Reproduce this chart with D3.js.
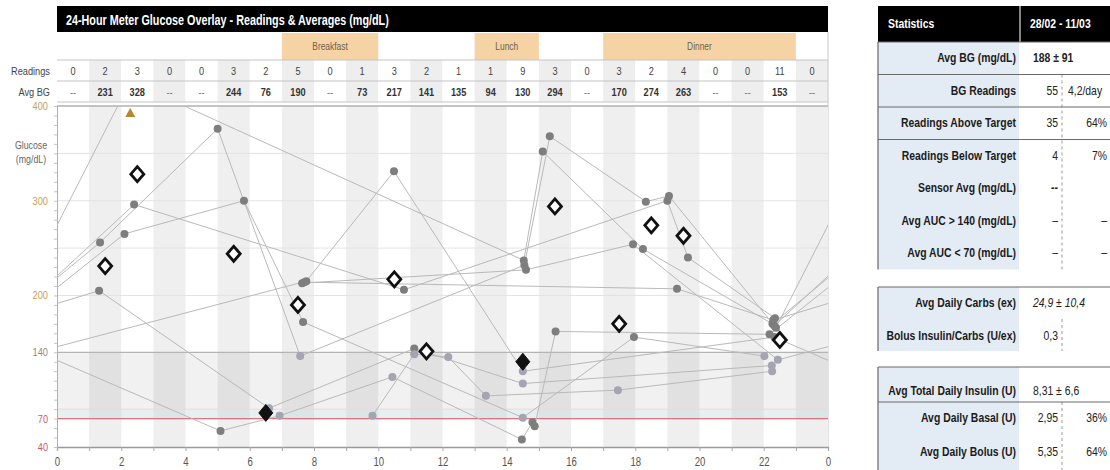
<!DOCTYPE html>
<html>
<head>
<meta charset="utf-8">
<script src="https://cdn.jsdelivr.net/npm/d3@7"></script>
<style>
  body { margin: 0; background: #fff; }
  svg { display: block; font-family: "Liberation Sans Narrow", "Arial Narrow", "Liberation Sans", Arial, sans-serif; }
</style>
</head>
<body>
<svg id="chart" width="1110" height="470"></svg>
<script>
// ---- hourly summary (one slot per hour of the day) ----
const hourSlots = d3.range(24);
const readingCounts = [0, 2, 3, 0, 0, 3, 2, 5, 0, 1, 3, 2, 1, 1, 9, 3, 0, 3, 2, 4, 0, 0, 11, 0];
const avgBG = [null, 231, 328, null, null, 244, 76, 190, null, 73, 217, 141, 135, 94, 130, 294, null, 170, 274, 263, null, null, 153, null];

// ---- meal periods (start hour, end hour) ----
const mealNames = ["Breakfast", "Lunch", "Dinner"];
const mealStart = [7, 13, 17];
const mealEnd = [10, 15, 23];

// ---- axis ticks ----
const yTickValues = [40, 70, 140, 200, 300, 400];
const xTickHours = d3.range(0, 25, 2);

// ---- meter readings: stretches of consecutive logged days, each day a list of [hour, mg/dL] ----
const runs = [
  [
    [[22.38, 166]],
    [[2.28, 426], [14.53, 237], [15.12, 352], [18.24, 249], [22.27, 170]],
    [[1.34, 256], [5.00, 376], [7.57, 136], [14.55, 232], [15.34, 368], [18.33, 299], [19.05, 305], [22.33, 168]],
    [[2.40, 296], [10.80, 206], [19.00, 300], [19.64, 240], [22.35, 176]]
  ],
  [
    [[7.63, 213], [14.60, 227], [17.93, 254], [22.44, 132]],
    [[7.76, 215], [10.49, 331], [14.50, 120], [22.33, 156]],
    [[5.09, 57], [6.93, 73], [10.44, 114], [14.47, 48], [14.80, 66], [14.87, 62], [15.52, 162], [22.18, 159]],
    [[2.10, 265], [5.82, 300], [7.66, 172], [14.50, 71], [17.96, 156], [22.02, 136]]
  ],
  [
    [[7.70, 214], [19.30, 207], [22.30, 174]],
    [[1.31, 205], [6.60, 81], [11.12, 144], [14.50, 107], [22.25, 126]]
  ],
  [
    [[9.82, 73], [11.12, 138], [12.18, 135], [13.35, 94], [17.46, 100], [22.26, 120]]
  ]
];

// ---- statistics panel ----
const statHeader = ["Statistics", "28/02 - 11/03"];
const statLabelsA = ["Avg BG (mg/dL)", "BG Readings", "Readings Above Target", "Readings Below Target",
                     "Sensor Avg (mg/dL)", "Avg AUC > 140 (mg/dL)", "Avg AUC < 70 (mg/dL)"];
const statValuesA = ["188 ± 91", "55", "35", "4", "--", "–", "–"];
const statExtraA = [null, "4,2/day", "64%", "7%", null, "–", "–"];
const statLabelsB = ["Avg Daily Carbs (ex)", "Bolus Insulin/Carbs (U/ex)"];
const statValuesB = ["24,9 ± 10,4", "0,3"];
const statLabelsC = ["Avg Total Daily Insulin (U)", "Avg Daily Basal (U)", "Avg Daily Bolus (U)"];
const statValuesC = ["8,31 ± 6,6", "2,95", "5,35"];
const statExtraC = [null, "36%", "64%"];

const svg = d3.select("#chart");

const x = d3.scaleLinear().domain([0, 24]).range([57, 828]);
const y = d3.scaleLinear().domain([40, 400]).range([447, 106]);
const plotTop = y(400), plotBottom = y(40);

// ================= title bar =================
svg.append("rect").attr("x", x(0)).attr("y", 6).attr("width", x(24) - x(0)).attr("height", 26).attr("fill", "#000");
svg.append("text").attr("x", x(0) + 9).attr("y", 25)
  .attr("fill", "#fff").attr("font-weight", "bold").attr("font-size", 15).attr("data-squeeze", 0.72)
  .text("24-Hour Meter Glucose Overlay - Readings & Averages (mg/dL)");

// ================= meal row =================
const mealRowTop = 32, mealRowBottom = 60;
svg.append("rect").attr("x", x(0)).attr("y", mealRowTop).attr("width", x(24) - x(0))
  .attr("height", mealRowBottom - mealRowTop).attr("fill", "#fff");
mealNames.forEach((m, i) => {
  svg.append("rect").attr("x", x(mealStart[i])).attr("y", mealRowTop + 1)
    .attr("width", x(mealEnd[i]) - x(mealStart[i])).attr("height", mealRowBottom - mealRowTop - 1)
    .attr("fill", "#f6d3a4");
  svg.append("text").attr("x", (x(mealStart[i]) + x(mealEnd[i])) / 2).attr("y", 50)
    .attr("text-anchor", "middle").attr("font-size", 10.5).attr("fill", "#6e5f4c").text(m);
});

// ================= readings / avg rows =================
const rowTop = 60, rowMid = 81, rowBottom = 102;
hourSlots.forEach(h => {
  svg.append("rect").attr("x", x(h)).attr("y", rowTop).attr("width", x(h + 1) - x(h))
    .attr("height", rowBottom - rowTop).attr("fill", h % 2 ? "#eeeeee" : "#ffffff");
});
[rowTop, rowMid, rowBottom].forEach(yy => {
  svg.append("line").attr("x1", x(0)).attr("x2", x(24)).attr("y1", yy).attr("y2", yy)
    .attr("stroke", "#c4c4c4").attr("stroke-width", 1.2);
});
svg.append("line").attr("x1", x(24)).attr("x2", x(24)).attr("y1", mealRowTop).attr("y2", plotBottom)
  .attr("stroke", "#c8c8c8");

svg.append("text").attr("x", 50).attr("y", 75).attr("text-anchor", "end")
  .attr("font-size", 11.5).attr("fill", "#444").text("Readings");
svg.append("text").attr("x", 50).attr("y", 96).attr("text-anchor", "end")
  .attr("font-size", 11.5).attr("fill", "#444").text("Avg BG");

svg.append("g").selectAll("text").data(hourSlots).join("text")
  .attr("x", h => x(h + 0.5)).attr("y", 75).attr("text-anchor", "middle")
  .attr("font-size", 11.5).attr("fill", "#444").text(h => readingCounts[h]);
svg.append("g").selectAll("text").data(hourSlots).join("text")
  .attr("x", h => x(h + 0.5)).attr("y", 96).attr("text-anchor", "middle")
  .attr("font-size", 11.5).attr("font-weight", h => avgBG[h] == null ? "normal" : "bold")
  .attr("fill", h => avgBG[h] == null ? "#777" : "#333")
  .text(h => avgBG[h] == null ? "--" : avgBG[h]);

// ================= plot background =================
const plot = svg.append("g");
hourSlots.filter(h => h % 2).forEach(h => {
  plot.append("rect").attr("x", x(h)).attr("y", plotTop).attr("width", x(h + 1) - x(h))
    .attr("height", plotBottom - plotTop).attr("fill", "#efefef");
});
// target range band
plot.append("rect").attr("x", x(0)).attr("y", y(140)).attr("width", x(24) - x(0))
  .attr("height", y(70) - y(140)).attr("fill", "rgba(0,0,0,0.055)");
plot.append("rect").attr("x", x(0)).attr("y", y(80)).attr("width", x(24) - x(0))
  .attr("height", y(70) - y(80)).attr("fill", "rgba(205,238,242,0.35)");
plot.append("line").attr("x1", x(0)).attr("x2", x(24)).attr("y1", y(80)).attr("y2", y(80))
  .attr("stroke", "#f6d3dc").attr("stroke-width", 1);
// faint grid
[200, 250, 300, 350].forEach(v => {
  plot.append("line").attr("x1", x(0)).attr("x2", x(24)).attr("y1", y(v)).attr("y2", y(v))
    .attr("stroke", "#e6e3de").attr("stroke-width", 1);
});
plot.append("line").attr("x1", x(0)).attr("x2", x(24)).attr("y1", y(140)).attr("y2", y(140))
  .attr("stroke", "#b4b4b4").attr("stroke-width", 1.3);
plot.append("line").attr("x1", x(0)).attr("x2", x(24)).attr("y1", y(70)).attr("y2", y(70))
  .attr("stroke", "#e2707f").attr("stroke-width", 1.2);
plot.append("line").attr("x1", x(0)).attr("x2", x(24)).attr("y1", y(400)).attr("y2", y(400))
  .attr("stroke", "#b0b0b0").attr("stroke-width", 1.5);

// ================= axes =================
const xAxis = d3.axisBottom(x).tickValues(d3.range(0, 25)).tickSize(4).tickPadding(6)
  .tickFormat(h => xTickHours.includes(h) ? String(h % 24) : "");
const gx = svg.append("g").attr("transform", `translate(0,${plotBottom})`).call(xAxis);
gx.select(".domain").attr("stroke", "#9a9a9a").attr("stroke-width", 1.3);
gx.selectAll(".tick line").attr("stroke", "#aaa");
gx.selectAll(".tick text").attr("font-size", 12).attr("fill", "#555")
  .attr("font-family", "'Liberation Sans Narrow','Liberation Sans',Arial,sans-serif");

const yAxis = d3.axisLeft(y).tickValues(d3.range(40, 401, 10)).tickSize(3).tickFormat("");
const gy = svg.append("g").attr("transform", `translate(${x(0)},0)`).call(yAxis);
gy.select(".domain").attr("stroke", "#b0b0b0");
gy.selectAll(".tick line").attr("stroke", "#c4c4c4");

const yLabelColor = v => v >= 200 ? "#c9a04e" : (v === 140 ? "#8a8a8a" : "#d4566a");
svg.append("g").selectAll("text").data(yTickValues).join("text")
  .attr("x", 48).attr("y", v => y(v) + 4).attr("text-anchor", "end")
  .attr("font-size", 11.5).attr("fill", yLabelColor).text(v => v);

svg.append("text").attr("x", 31).attr("y", 149).attr("text-anchor", "middle")
  .attr("font-size", 11).attr("fill", "#666").text("Glucose");
svg.append("text").attr("x", 31).attr("y", 163).attr("text-anchor", "middle")
  .attr("font-size", 11).attr("fill", "#666").text("(mg/dL)");

// ================= reading lines =================
svg.append("defs").append("clipPath").attr("id", "plotClip")
  .append("rect").attr("x", x(0)).attr("y", plotTop).attr("width", x(24) - x(0)).attr("height", plotBottom - plotTop);

const segments = [];
const points = [];
runs.forEach(run => {
  const flat = [];
  run.forEach((day, di) => day.forEach(([h, v]) => flat.push({ t: di * 24 + h, h, v })));
  flat.forEach(p => points.push(p));
  for (let i = 1; i < flat.length; i++) {
    const a = flat[i - 1], b = flat[i];
    const end = a.h + (b.t - a.t);
    segments.push([a.h, a.v, end, b.v]);
    if (end > 24) segments.push([a.h - 24, a.v, end - 24, b.v]);
  }
});

svg.append("g").attr("clip-path", "url(#plotClip)").selectAll("line").data(segments).join("line")
  .attr("x1", d => x(d[0])).attr("y1", d => y(d[1]))
  .attr("x2", d => x(d[2])).attr("y2", d => y(d[3]))
  .attr("stroke", "#b9b9b9").attr("stroke-width", 1);

// ================= reading dots =================
svg.append("g").selectAll("circle").data(points.filter(p => p.v <= 400)).join("circle")
  .attr("cx", p => x(p.h)).attr("cy", p => y(p.v)).attr("r", 4)
  .attr("fill", p => (p.v >= 70 && p.v <= 140) ? "#a4a4b2" : "#7e7e7e");

// readings above the chart ceiling
svg.append("g").selectAll("path").data(points.filter(p => p.v > 400)).join("path")
  .attr("transform", p => `translate(${x(p.h)},${y(400) + 7})`)
  .attr("d", "M0,-5 L5,4 L-5,4 Z").attr("fill", "#b8862e");

// ================= hourly average diamonds =================
const avgHours = hourSlots.filter(h => avgBG[h] != null && readingCounts[h] >= 2);
svg.append("g").selectAll("path").data(avgHours).join("path")
  .attr("transform", h => `translate(${x(h + 0.5)},${y(avgBG[h])})`)
  .attr("d", h => avgBG[h] < 140 ? "M0,-8.5 L7,0 L0,8.5 L-7,0 Z" : "M0,-7.5 L6.5,0 L0,7.5 L-6.5,0 Z")
  .attr("fill", h => avgBG[h] < 140 ? "#111" : "#fff")
  .attr("stroke", "#111").attr("stroke-width", h => avgBG[h] < 140 ? 1 : 2.8)
  .attr("stroke-linejoin", "miter");

// ================= statistics panel =================
const sp = svg.append("g");
const px0 = 878, pDiv = 1019, pVal = 1033, pNum = 1058, pDash = 1062, pExtra = 1068, pPct = 1107;

// header
sp.append("rect").attr("x", px0).attr("y", 6).attr("width", 1110 - px0).attr("height", 36).attr("fill", "#000");
sp.append("line").attr("x1", pDiv + 1).attr("x2", pDiv + 1).attr("y1", 6).attr("y2", 42).attr("stroke", "#ddd").attr("stroke-width", 1.2);
sp.append("text").attr("x", 888).attr("y", 28).attr("fill", "#fff").attr("font-weight", "bold")
  .attr("font-size", 13).text(statHeader[0]);
sp.append("text").attr("x", 1030).attr("y", 28).attr("fill", "#fff").attr("font-weight", "bold")
  .attr("font-size", 13).text(statHeader[1]);

function statBox(top, bottom, labels, centers, values, extras, opts) {
  sp.append("rect").attr("x", px0).attr("y", top).attr("width", pDiv - px0).attr("height", bottom - top).attr("fill", "#e3ebf4");
  sp.append("line").attr("x1", px0).attr("x2", px0).attr("y1", top).attr("y2", bottom).attr("stroke", "#666").attr("stroke-width", 1.2);
  if (opts.dash) {
    sp.append("line").attr("x1", pDash).attr("x2", pDash).attr("y1", opts.dash[0]).attr("y2", opts.dash[1])
      .attr("stroke", "#9a9a9a").attr("stroke-dasharray", "3,3");
  }
  (opts.rules || []).forEach(r => {
    sp.append("line").attr("x1", px0).attr("x2", 1110).attr("y1", r).attr("y2", r).attr("stroke", "#6a6a6a").attr("stroke-width", 1.2);
  });
  labels.forEach((l, i) => {
    sp.append("text").attr("x", 1016).attr("y", centers[i] + 4.5).attr("text-anchor", "end")
      .attr("font-weight", "bold").attr("font-size", 13).attr("fill", "#1b1b1b").text(l);
    const v = values[i];
    const wide = v.includes("±");
    sp.append("text")
      .attr("x", wide ? pVal : pNum).attr("y", centers[i] + 4.5)
      .attr("text-anchor", wide ? "start" : "end")
      .attr("font-size", 13).attr("fill", "#222")
      .attr("font-weight", (opts.boldFirst && i === 0) || v === "--" ? "bold" : "normal")
      .attr("font-style", opts.italicFirst && i === 0 ? "italic" : "normal")
      .text(v);
    const e = extras ? extras[i] : null;
    if (e) {
      const pct = e.endsWith("%") || e === "–";
      sp.append("text").attr("x", pct ? pPct : pExtra).attr("y", centers[i] + 4.5)
        .attr("text-anchor", pct ? "end" : "start").attr("font-size", 13).attr("fill", "#222").text(e);
    }
  });
}

statBox(42, 269.5, statLabelsA, [58, 90.5, 123, 155.5, 188, 221, 253], statValuesA, statExtraA,
  { rules: [42, 74.5, 107, 139.5], dash: [74.5, 269.5], boldFirst: true });
statBox(287, 351, statLabelsB, [303, 336], statValuesB, null,
  { rules: [287], dash: [319, 351], italicFirst: true });
statBox(367, 470, statLabelsC, [391, 418, 452], statValuesC, statExtraC,
  { rules: [367, 402], dash: [402, 470] });

// narrow the sans face to a condensed look: squeeze each text horizontally around its anchor point
svg.selectAll("text").each(function () {
  const w = this.getComputedTextLength();
  if (!(w > 0)) return;
  const el = d3.select(this);
  const k = +(el.attr("data-squeeze") || 0.8);
  const anchor = window.getComputedStyle(this).textAnchor || el.attr("text-anchor") || "start";
  const x0 = +(el.attr("x") || 0);
  const start = anchor === "end" ? x0 - w * k : anchor === "middle" ? x0 - w * k / 2 : x0;
  el.attr("x", 0).attr("text-anchor", "start")
    .attr("transform", `translate(${start.toFixed(1)},0) scale(${k},1)`);
});
</script>
</body>
</html>
